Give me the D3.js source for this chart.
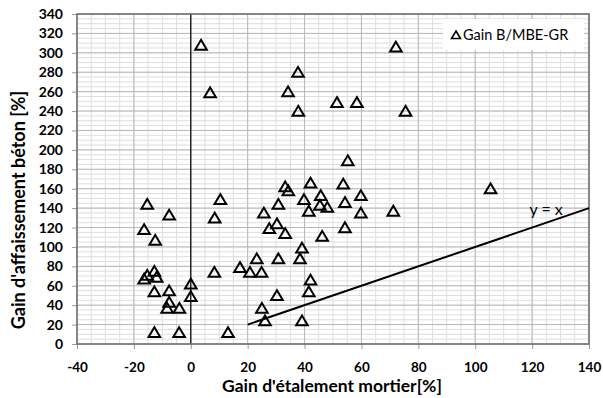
<!DOCTYPE html>
<html>
<head>
<meta charset="utf-8">
<script src="https://cdn.jsdelivr.net/npm/d3@7"></script>
<style>
  body { margin: 0; background: #fff; }
  svg { display: block; }
</style>
</head>
<body>
<svg id="chart" width="603" height="398"></svg>
<script>
// ---- data ----
const seriesName = "Gain B/MBE-GR";
const xValues = [3.6, 6.8, 37.7, 34.2, 37.8, 51.4, 58.4, 72.1, 75.5, 55.2,
  105.4, 33.2, 34.3, 42.1, 53.6, 45.7, 59.8, 39.8, 30.8, 54.2,
  45.4, 48.0, 41.5, 59.8, 71.2, 25.7, -15.3, -7.6, 10.4, 8.4,
  27.6, 30.3, 33.2, 46.2, 54.2, -16.4, -12.5, 39.1, 23.2, 30.8,
  38.4, 17.3, 20.8, 24.9, 8.3, -12.8, -15.3, -16.4, -12.0, 0,
  0, 42.1, 41.5, -12.8, -7.6, 30.3, -7.6, -8.3, -4.0, 25.0,
  26.1, 39.1, -12.8, -4.1, 13.1];
const yValues = [308, 259, 280, 260, 240, 249, 249, 306, 240, 189,
  160, 162, 158, 166, 165, 153, 153, 149, 144, 146,
  143, 141, 137, 135, 137, 135, 144, 133, 149, 130,
  119, 124, 114, 111, 120, 118, 107, 99, 88, 88,
  88, 79, 74, 74, 74, 75, 71, 67, 69, 62,
  49, 66, 54, 54, 55, 50, 43, 37, 37, 37,
  24, 24, 12, 12, 12];
const xTicks = [-40, -20, 0, 20, 40, 60, 80, 100, 120, 140];
const yTicks = [0, 20, 40, 60, 80, 100, 120, 140, 160, 180, 200, 220, 240, 260, 280, 300, 320, 340];
const identityLine = [20, 140];
const xTitle = "Gain d'étalement mortier[%]";
const yTitle = "Gain d'affaissement béton [%]";
const lineLabel = "y = x";

// ---- layout ----
const svg = d3.select("#chart");
const W = 603, H = 398;
const m = {left: 77, right: 14, top: 14, bottom: 54};
const iw = W - m.left - m.right, ih = H - m.top - m.bottom;
const font = "Lato, 'Open Sans', sans-serif";

const x = d3.scaleLinear().domain([-40, 140]).range([m.left, m.left + iw]);
const y = d3.scaleLinear().domain([0, 340]).range([m.top + ih, m.top]);

const g = svg.append("g");

// minor grid
g.append("g").selectAll("line").data(d3.range(-40, 141, 5))
  .join("line")
  .attr("x1", d => x(d)).attr("x2", d => x(d))
  .attr("y1", m.top).attr("y2", m.top + ih)
  .attr("stroke", "#dedede").attr("stroke-width", 1);
g.append("g").selectAll("line").data(d3.range(0, 341, 5))
  .join("line")
  .attr("y1", d => y(d)).attr("y2", d => y(d))
  .attr("x1", m.left).attr("x2", m.left + iw)
  .attr("stroke", "#dedede").attr("stroke-width", 1);
// major grid
g.append("g").selectAll("line").data(xTicks)
  .join("line")
  .attr("x1", d => x(d)).attr("x2", d => x(d))
  .attr("y1", m.top).attr("y2", m.top + ih)
  .attr("stroke", "#b8b8b8").attr("stroke-width", 1);
g.append("g").selectAll("line").data(yTicks)
  .join("line")
  .attr("y1", d => y(d)).attr("y2", d => y(d))
  .attr("x1", m.left).attr("x2", m.left + iw)
  .attr("stroke", "#b8b8b8").attr("stroke-width", 1);

// zero vertical line
g.append("line")
  .attr("x1", x(0)).attr("x2", x(0))
  .attr("y1", m.top).attr("y2", m.top + ih)
  .attr("stroke", "#000").attr("stroke-width", 1.2);

// axes
const fmt = d => String(d);
const xAxis = g.append("g").attr("transform", `translate(0,${m.top + ih})`)
  .call(d3.axisBottom(x).tickValues(xTicks).tickSize(5).tickFormat(fmt));
const yAxis = g.append("g").attr("transform", `translate(${m.left},0)`)
  .call(d3.axisLeft(y).tickValues(yTicks).tickSize(5).tickFormat(fmt));
[xAxis, yAxis].forEach(a => {
  a.select(".domain").remove();
  a.selectAll(".tick line").attr("stroke", "#999");
  a.selectAll(".tick text").attr("font-family", font)
    .attr("font-weight", "bold").attr("fill", "#000");
});
xAxis.selectAll(".tick text").attr("font-size", 13.5).attr("dy", "0.71em").attr("y", 18);
yAxis.selectAll(".tick text").attr("font-size", 14).attr("x", -14);

// plot border
g.append("rect")
  .attr("x", m.left).attr("y", m.top).attr("width", iw).attr("height", ih)
  .attr("fill", "none").attr("stroke", "#6e6e6e").attr("stroke-width", 1.5);

// y = x line
g.append("line")
  .attr("x1", x(identityLine[0])).attr("y1", y(identityLine[0]))
  .attr("x2", x(identityLine[1])).attr("y2", y(identityLine[1]))
  .attr("stroke", "#000").attr("stroke-width", 2);
g.append("text")
  .attr("x", x(120) + 14).attr("y", y(140) + 7)
  .attr("text-anchor", "middle")
  .attr("font-family", font).attr("font-size", 16).attr("fill", "#000")
  .text(lineLabel);

// markers
const tri = "M0,-5.2L5.8,4.6L-5.8,4.6Z";
const pts = xValues.map((v, i) => ({x: v, y: yValues[i]}));
g.append("g").selectAll("path").data(pts)
  .join("path")
  .attr("d", tri)
  .attr("transform", d => `translate(${x(d.x)},${y(d.y)})`)
  .attr("fill", "none").attr("stroke", "#000").attr("stroke-width", 2)
  .attr("stroke-linejoin", "miter");

// legend
const lg = g.append("g");
lg.append("rect").attr("x", 443).attr("y", 19).attr("width", 141).attr("height", 31)
  .attr("fill", "#fff");
lg.append("path").attr("d", "M0,-4L4.5,3.5L-4.5,3.5Z")
  .attr("transform", "translate(456,35)")
  .attr("fill", "none").attr("stroke", "#000").attr("stroke-width", 1.6);
lg.append("text").attr("x", 463).attr("y", 40)
  .attr("font-family", font).attr("font-size", 14.5).attr("fill", "#000")
  .text(seriesName);

// titles
svg.append("text")
  .attr("x", x(50) - 1).attr("y", 392)
  .attr("text-anchor", "middle")
  .attr("font-family", font).attr("font-size", 17.5).attr("font-weight", "bold")
  .text(xTitle);
svg.append("text")
  .attr("transform", `translate(19,210) rotate(-90)`)
  .attr("text-anchor", "middle").attr("dy", "0.35em")
  .attr("font-family", font).attr("font-size", 18).attr("font-weight", "bold")
  .text(yTitle);
</script>
</body>
</html>
